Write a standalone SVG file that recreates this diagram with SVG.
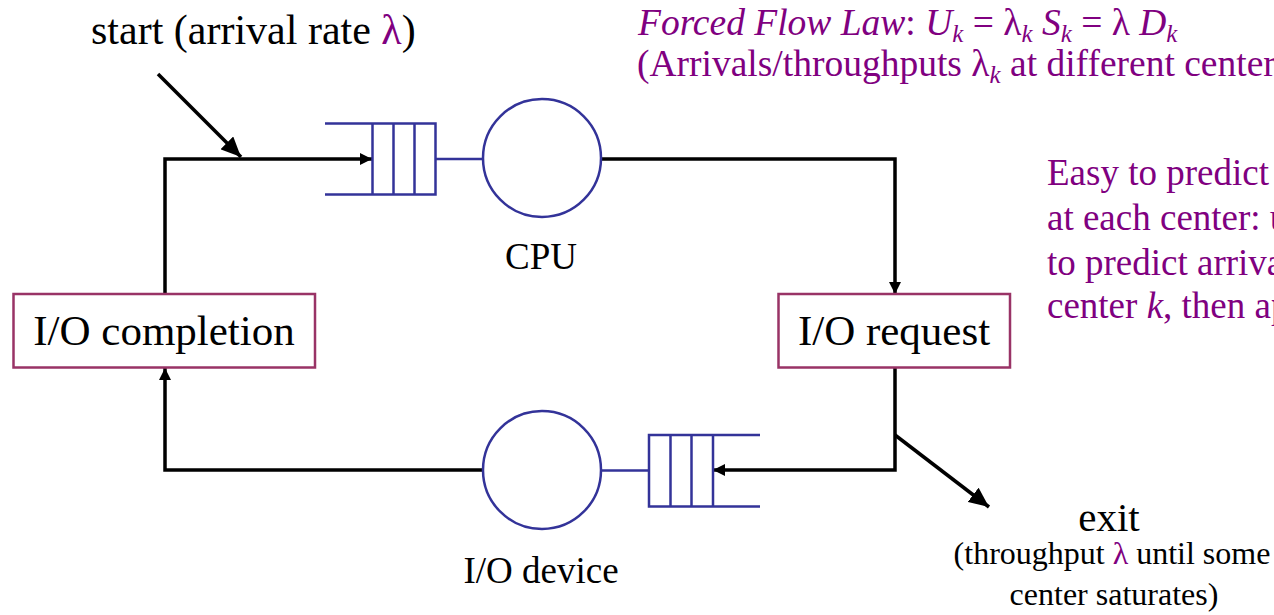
<svg xmlns="http://www.w3.org/2000/svg" width="1274" height="615" viewBox="0 0 1274 615">
<style>
  text { font-family: "Liberation Serif", "Times New Roman", serif; fill: #000; }
  .purple { fill: #800080; }
  .it { font-style: italic; }
  .q { fill: none; stroke: #333399; stroke-width: 2.5; }
  .box { fill: #fff; stroke: #993366; stroke-width: 2.5; }
  .conn { fill: none; stroke: #000; stroke-width: 3.5; }
</style>
<defs>
  <marker id="arr" markerUnits="userSpaceOnUse" markerWidth="12" markerHeight="12" refX="12" refY="6" orient="auto">
    <path d="M0,0 L12,6 L0,12 z" fill="#000"/>
  </marker>
  <marker id="arrL" markerUnits="userSpaceOnUse" markerWidth="22" markerHeight="18" refX="20" refY="9" orient="auto">
    <path d="M0,0 L20,9 L0,18 z" fill="#000"/>
  </marker>
</defs>

<g id="connectors">
  <line class="conn" x1="158" y1="74" x2="241" y2="157" marker-end="url(#arrL)"/>
  <path class="conn" d="M165,294 V159 H372" marker-end="url(#arr)"/>
  <path class="conn" d="M601,159 H895 V294" marker-end="url(#arr)"/>
  <path class="conn" d="M895,368 V470 H713" marker-end="url(#arr)"/>
  <line class="conn" x1="895" y1="435" x2="989" y2="507" marker-end="url(#arrL)"/>
  <path class="conn" d="M483,470 H165 V368" marker-end="url(#arr)"/>
</g>

<g id="cpu">
  <path class="q" d="M325,123.5 H435.5 V194.5 H325 M372.5,123.5 V194.5 M393.5,123.5 V194.5 M414.5,123.5 V194.5 M435.5,159 H483"/>
  <circle class="q" cx="542" cy="158" r="59"/>
  <text x="541" y="269" font-size="37" text-anchor="middle">CPU</text>
</g>

<g id="io-device">
  <path class="q" d="M760,435 H649 V506.5 H760 M670.5,435 V506.5 M691.5,435 V506.5 M713,435 V506.5 M601,470.5 H649"/>
  <circle class="q" cx="542" cy="470" r="59"/>
  <text x="541" y="583" font-size="37" text-anchor="middle">I/O device</text>
</g>

<g id="io-completion">
  <rect class="box" x="13.5" y="294" width="301.5" height="73.5"/>
  <text x="164" y="345" font-size="43" text-anchor="middle">I/O completion</text>
</g>

<g id="io-request">
  <rect class="box" x="778.5" y="294" width="231.5" height="73.5"/>
  <text x="894" y="345" font-size="43" text-anchor="middle">I/O request</text>
</g>

<g id="start-label">
  <text x="91" y="44" font-size="42">start (arrival rate <tspan class="purple">λ</tspan>)</text>
</g>

<g id="exit-label">
  <text x="1109" y="531" font-size="41" text-anchor="middle">exit</text>
  <text x="1112" y="564" font-size="32" text-anchor="middle">(throughput <tspan class="purple">λ</tspan> until some</text>
  <text x="1114" y="605" font-size="32" text-anchor="middle">center saturates)</text>
</g>

<g id="law-text">
  <text x="638" y="35" font-size="37.5" class="purple"><tspan class="it">Forced Flow Law</tspan>: <tspan class="it">U</tspan><tspan class="it" font-size="25" dy="7">k</tspan><tspan dy="-7"> = λ</tspan><tspan class="it" font-size="25" dy="7">k</tspan><tspan class="it" dy="-7"> S</tspan><tspan class="it" font-size="25" dy="7">k</tspan><tspan dy="-7"> = λ </tspan><tspan class="it">D</tspan><tspan class="it" font-size="25" dy="7">k</tspan></text>
  <text x="637" y="76" font-size="37.5" class="purple">(Arrivals/throughputs λ<tspan class="it" font-size="25" dy="7">k</tspan><tspan dy="-7"> at different centers)</tspan></text>
</g>

<g id="predict-text">
  <text x="1047" y="185" font-size="37" class="purple">Easy to predict throughput</text>
  <text x="1047" y="230" font-size="37" class="purple">at each center: use</text>
  <text x="1047" y="275" font-size="37" class="purple">to predict arrivals</text>
  <text x="1047" y="318" font-size="37" class="purple">center <tspan class="it">k</tspan>, then apply</text>
</g>
</svg>
